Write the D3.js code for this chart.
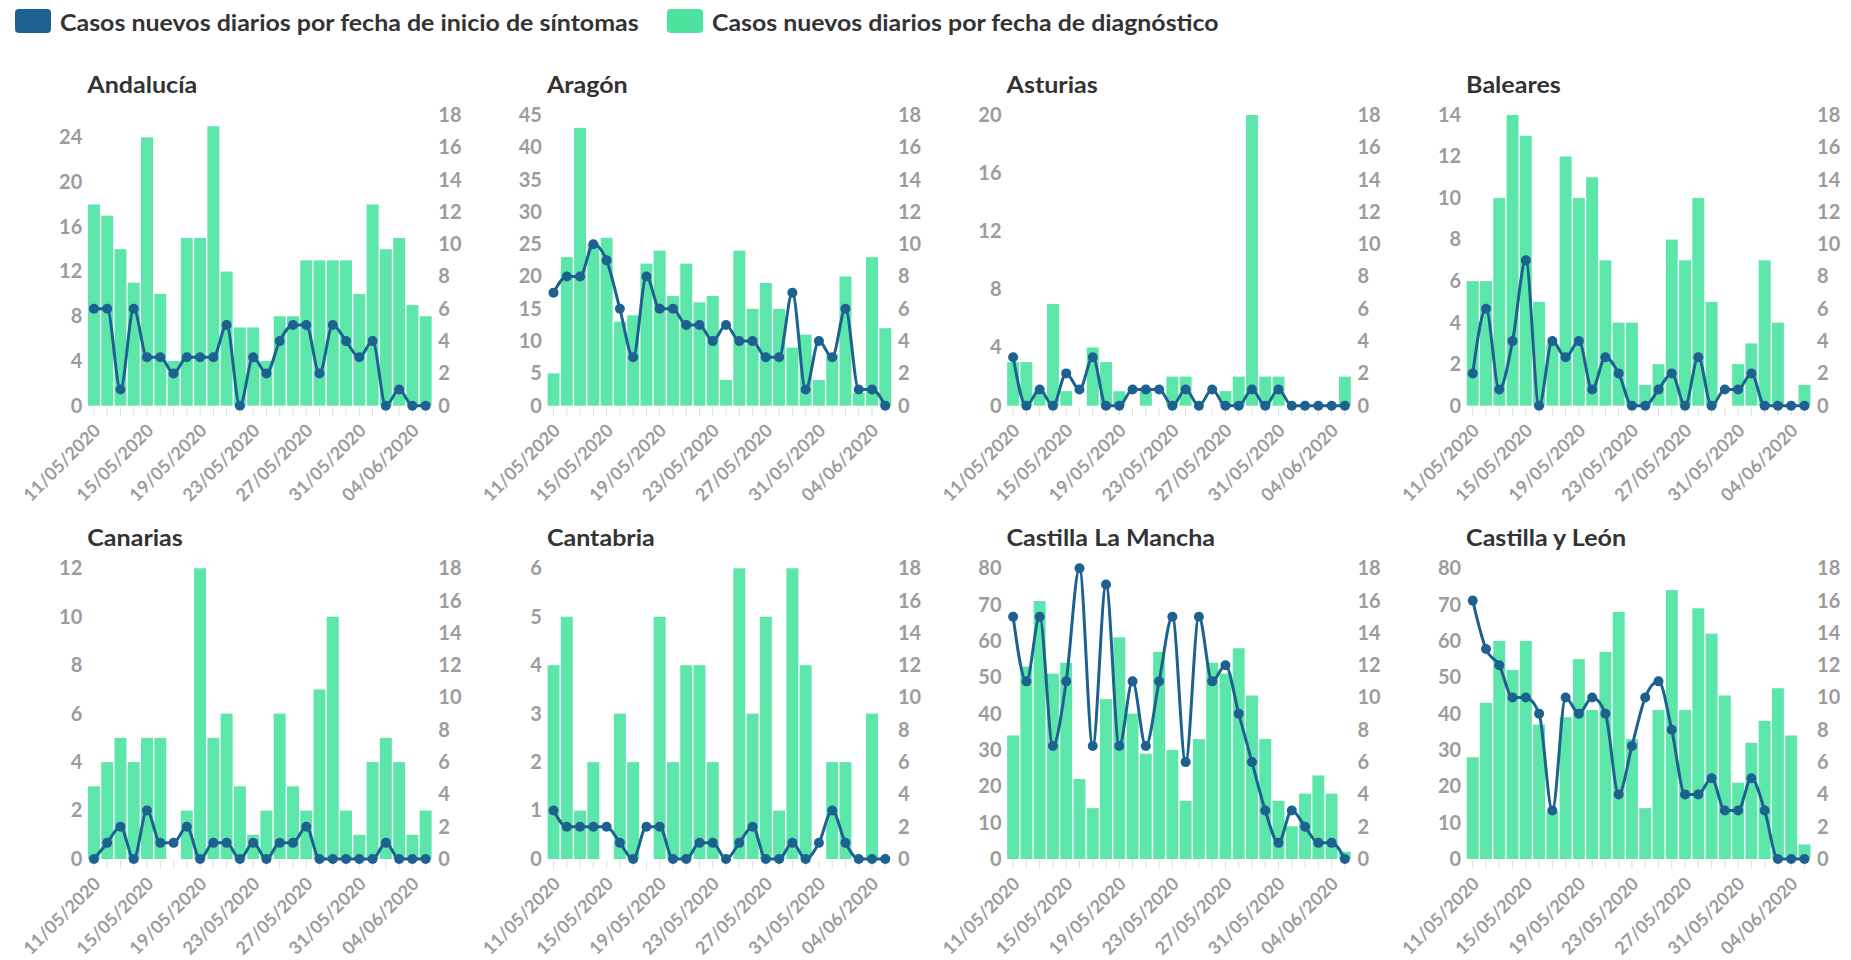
<!DOCTYPE html>
<html><head><meta charset="utf-8">
<script src="https://cdn.jsdelivr.net/npm/d3@7"></script>
<style>
html,body{margin:0;padding:0;background:#fff;}
svg{display:block;}
text{font-family:Lato,"Open Sans",sans-serif;}
</style></head><body>
<svg id="chart" width="1851" height="960"></svg>
<script>
// ---------- DATA ----------
const dates = ["11/05/2020","12/05/2020","13/05/2020","14/05/2020","15/05/2020","16/05/2020","17/05/2020","18/05/2020","19/05/2020","20/05/2020","21/05/2020","22/05/2020","23/05/2020","24/05/2020","25/05/2020","26/05/2020","27/05/2020","28/05/2020","29/05/2020","30/05/2020","31/05/2020","01/06/2020","02/06/2020","03/06/2020","04/06/2020","05/06/2020"];
const tickLabels = ["11/05/2020","15/05/2020","19/05/2020","23/05/2020","27/05/2020","31/05/2020","04/06/2020"];
const legendLabels = ["Casos nuevos diarios por fecha de inicio de síntomas","Casos nuevos diarios por fecha de diagnóstico"];
const regions = ["Andalucía","Aragón","Asturias","Baleares","Canarias","Cantabria","Castilla La Mancha","Castilla y León"];

// bars: casos por fecha de diagnóstico (left axis)
const diagAndalucia = [18,17,14,11,24,10,4,15,15,25,12,7,7,4,8,8,13,13,13,13,10,18,14,15,9,8];
const diagAragon    = [5,23,43,25,26,13,14,22,24,17,22,16,17,4,24,15,19,15,9,11,4,8,20,2,23,12];
const diagAsturias  = [3,3,1,7,1,0,4,3,1,0,1,0,2,2,0,0,1,2,20,2,2,0,0,0,0,2];
const diagBaleares  = [6,6,10,14,13,5,3,12,10,11,7,4,4,1,2,8,7,10,5,0,2,3,7,4,0,1];
const diagCanarias  = [3,4,5,4,5,5,0,2,12,5,6,3,1,2,6,3,2,7,10,2,1,4,5,4,1,2];
const diagCantabria = [4,5,1,2,0,3,2,0,5,2,4,4,2,0,6,3,5,1,6,4,0,2,2,0,3,0];
const diagCLM       = [34,53,71,51,54,22,14,44,61,40,29,57,30,16,33,54,51,58,45,33,16,9,18,23,18,2];
const diagCyL       = [28,43,60,52,60,37,13,39,55,41,57,68,33,14,41,74,41,69,62,45,21,32,38,47,34,4];

// line: casos por fecha de inicio de síntomas (right axis)
const sintAndalucia = [6,6,1,6,3,3,2,3,3,3,5,0,3,2,4,5,5,2,5,4,3,4,0,1,0,0];
const sintAragon    = [7,8,8,10,9,6,3,8,6,6,5,5,4,5,4,4,3,3,7,1,4,3,6,1,1,0];
const sintAsturias  = [3,0,1,0,2,1,3,0,0,1,1,1,0,1,0,1,0,0,1,0,1,0,0,0,0,0];
const sintBaleares  = [2,6,1,4,9,0,4,3,4,1,3,2,0,0,1,2,0,3,0,1,1,2,0,0,0,0];
const sintCanarias  = [0,1,2,0,3,1,1,2,0,1,1,0,1,0,1,1,2,0,0,0,0,0,1,0,0,0];
const sintCantabria = [3,2,2,2,2,1,0,2,2,0,0,1,1,0,1,2,0,0,1,0,1,3,1,0,0,0];
const sintCLM       = [15,11,15,7,11,18,7,17,7,11,7,11,15,6,15,11,12,9,6,3,1,3,2,1,1,0];
const sintCyL       = [16,13,12,10,10,9,3,10,9,10,9,4,7,10,11,8,4,4,5,3,3,5,3,0,0,0];

// axis ticks
const leftMax   = [26,45,20,14,12,6,80,80];
const leftTicks = [
  [0,4,8,12,16,20,24],
  [0,5,10,15,20,25,30,35,40,45],
  [0,4,8,12,16,20],
  [0,2,4,6,8,10,12,14],
  [0,2,4,6,8,10,12],
  [0,1,2,3,4,5,6],
  [0,10,20,30,40,50,60,70,80],
  [0,10,20,30,40,50,60,70,80]
];
const rightTicks = [0,2,4,6,8,10,12,14,16,18];

const diagSeries = [diagAndalucia,diagAragon,diagAsturias,diagBaleares,diagCanarias,diagCantabria,diagCLM,diagCyL];
const sintSeries = [sintAndalucia,sintAragon,sintAsturias,sintBaleares,sintCanarias,sintCantabria,sintCLM,sintCyL];

// ---------- STYLE / LAYOUT ----------
const BLUE = "#1c6190", GREEN = "#5ce6a9", GREEN_LEG = "#4de39f";
const AXIS_TXT = "#9c9c9c", TITLE_TXT = "#333333";
const W = 345, H = 290.7;
const colX = c => 87.3 + c*459.6;
const rowY = r => 115 + r*453.3;

const svg = d3.select("#chart");

function fitX(sel, target){
  const len = sel.node().getComputedTextLength();
  return target/len;
}

// ---------- LEGEND ----------
const legend = svg.append("g");
const legItems = [{x:15, tx:60, tw:579, color:BLUE},{x:667, tx:712, tw:507, color:GREEN_LEG}];
legItems.forEach((it,k)=>{
  legend.append("rect").attr("x",it.x).attr("y",9).attr("width",36).attr("height",24).attr("rx",4).attr("fill",it.color);
  const t = legend.append("text").text(legendLabels[k])
    .attr("font-size",23).attr("font-weight",700).attr("fill",TITLE_TXT);
  const s = fitX(t, it.tw);
  t.attr("transform",`translate(${it.tx},30.5) scale(${s},1)`);
});

// measure label font sizes
const probe = svg.append("text").attr("font-size",18).attr("font-weight",700).text("11/05/2020");
const tickFs = 18*100/probe.node().getComputedTextLength();
probe.remove();
const probe2 = svg.append("text").attr("font-size",22.5).attr("font-weight",700).text("Andalucía");
const titleScale = 110/probe2.node().getComputedTextLength();
probe2.remove();

const labelSet = new Set(tickLabels);
const fmt = d3.format("d");

regions.forEach((name,i)=>{
  const c = i%4, r = Math.floor(i/4);
  const g = svg.append("g").attr("transform",`translate(${colX(c)},${rowY(r)})`);
  const x = d3.scaleBand().domain(dates).range([0,W]).paddingInner(0.1).paddingOuter(0.05);
  const yL = d3.scaleLinear().domain([0,leftMax[i]]).range([H,0]);
  const yR = d3.scaleLinear().domain([0,18]).range([H,0]);

  // title
  g.append("text").text(name).attr("font-size",22.5).attr("font-weight",700).attr("fill",TITLE_TXT)
    .attr("transform",`translate(0,-22) scale(${titleScale},1)`);

  // left axis
  const ax = g.append("g").call(d3.axisLeft(yL).tickValues(leftTicks[i]).tickFormat(fmt).tickSize(0).tickPadding(5));
  ax.select(".domain").remove();
  ax.selectAll("text").attr("font-family","Lato, sans-serif").attr("font-size",20).attr("font-weight",700).attr("fill",AXIS_TXT);

  // right axis
  const ar = g.append("g").attr("transform",`translate(${W},0)`)
    .call(d3.axisRight(yR).tickValues(rightTicks).tickFormat(fmt).tickSize(0).tickPadding(6));
  ar.select(".domain").remove();
  ar.selectAll("text").attr("font-family","Lato, sans-serif").attr("font-size",20).attr("font-weight",700).attr("fill",AXIS_TXT);

  // bottom axis
  const ab = g.append("g").attr("transform",`translate(0,${H+1.5})`)
    .call(d3.axisBottom(x).tickSize(8).tickFormat(d => labelSet.has(d) ? d : ""));
  ab.select(".domain").remove();
  ab.selectAll(".tick line").attr("stroke","#dddddd").attr("stroke-width",1);
  ab.selectAll("text").attr("font-family","Lato, sans-serif").attr("font-size",tickFs).attr("font-weight",700)
    .attr("fill",AXIS_TXT).attr("text-anchor","end").attr("x",7.7).attr("y",24.5).attr("dy",0)
    .attr("transform","rotate(-45 7.7 24.5)");

  // bars
  g.append("g").selectAll("rect").data(diagSeries[i]).join("rect")
    .attr("x",(d,j)=>x(dates[j])).attr("width",x.bandwidth())
    .attr("y",d=>yL(d)).attr("height",d=>H-yL(d)).attr("fill",GREEN);

  // line
  const line = d3.line().x((d,j)=>x(dates[j])+x.bandwidth()/2).y(d=>yR(d)).curve(d3.curveMonotoneX);
  g.append("path").datum(sintSeries[i]).attr("d",line).attr("fill","none").attr("stroke",BLUE).attr("stroke-width",3).attr("stroke-linejoin","round");
  g.append("g").selectAll("circle").data(sintSeries[i]).join("circle")
    .attr("cx",(d,j)=>x(dates[j])+x.bandwidth()/2).attr("cy",d=>yR(d)).attr("r",5).attr("fill",BLUE);
});
</script>
</body></html>
